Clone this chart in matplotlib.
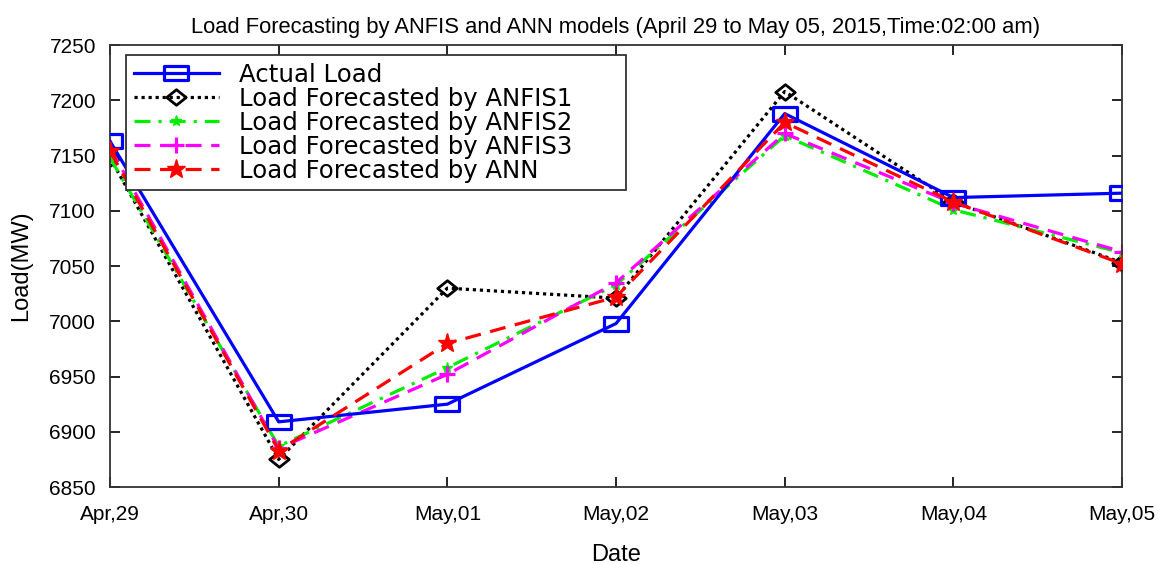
import matplotlib
matplotlib.use("Agg")
import matplotlib.pyplot as plt
from matplotlib.path import Path

plt.rcParams['font.family'] = ['Liberation Sans', 'DejaVu Sans']

dates = ["Apr,29", "Apr,30", "May,01", "May,02", "May,03", "May,04", "May,05"]
actual = [7163, 6909, 6925, 6998, 7188, 7112, 7116]
anfis1 = [7148, 6875, 7030, 7021, 7208, 7108, 7053]
anfis2 = [7148, 6887, 6958, 7033, 7168, 7101, 7062]
anfis3 = [7157, 6885, 6952, 7035, 7170, 7107, 7063]
ann = [7154, 6883, 6980, 7022, 7180, 7108, 7052]

x = list(range(len(dates)))

# wide markers, the source picture is stretched sideways
rect = Path([(-1, -0.6), (1, -0.6), (1, 0.6), (-1, 0.6), (-1, -0.6)],
            [Path.MOVETO, Path.LINETO, Path.LINETO, Path.LINETO, Path.CLOSEPOLY])
diam = Path([(0, -0.8), (1, 0), (0, 0.8), (-1, 0), (0, -0.8)],
            [Path.MOVETO, Path.LINETO, Path.LINETO, Path.LINETO, Path.CLOSEPOLY])

fig = plt.figure(figsize=(11.58, 5.64), dpi=100)
ax = fig.add_axes([0.095, 0.1365, 0.874, 0.7835])

ax.plot(x, actual, color="blue", lw=2.3, marker=rect, ms=17, mfc="none",
        mew=2.3, label="Actual Load", zorder=3)
ax.plot(x, anfis1, color="black", lw=2.3, ls=(0, (1, 1.2)), marker=diam, ms=14,
        mfc="none", mew=2, label="Load Forecasted by ANFIS1", zorder=2)
ax.plot(x, anfis2, color="#00ee00", lw=2.3, ls=(0, (5, 2.5, 1, 2.5)), marker="*",
        ms=8, mfc="#00ee00", label="Load Forecasted by ANFIS2", zorder=2)
ax.plot(x, anfis3, color="magenta", lw=2.3, ls=(0, (5, 3)), marker="+", ms=12,
        mew=2.3, label="Load Forecasted by ANFIS3", zorder=2)
ax.plot(x, ann, color="red", lw=2.3, ls=(0, (5, 3)), marker="*", ms=14,
        mfc="red", label="Load Forecasted by ANN", zorder=4)

ax.set_xlim(0, 6)
ax.set_ylim(6850, 7250)
ax.set_xticks(x)
ax.set_xticklabels(dates, fontsize=15)
ax.set_yticks(range(6850, 7251, 50))
ax.tick_params(axis="y", labelsize=15, pad=10)
ax.tick_params(axis="x", pad=13)
ax.tick_params(direction="in", top=True, right=True, length=7, width=1.2)
for sp in ax.spines.values():
    sp.set_linewidth(1.3)
    sp.set_color("#333333")

ax.set_xlabel("Date", fontsize=17, labelpad=14)
ax.set_ylabel("Load(MW)", fontsize=17, labelpad=12)
ax.set_title("Load Forecasting by ANFIS and ANN models (April 29 to May 05, 2015,Time:02:00 am)",
             fontsize=15.8, pad=9)

labels = ["Actual Load", "Load Forecasted by ANFIS1", "Load Forecasted by ANFIS2",
          "Load Forecasted by ANFIS3", "Load Forecasted by ANN"]
leg = ax.legend(ax.get_lines(), [l + "      " for l in labels],
                loc="upper left", bbox_to_anchor=(0.016, 0.977),
                prop={"family": "DejaVu Sans", "size": 17.6},
                handlelength=3.5, fancybox=False, framealpha=1, edgecolor="#333333",
                borderpad=0.3, labelspacing=0.0, handletextpad=0.8,
                borderaxespad=0)
leg.get_frame().set_linewidth(1.3)

fig.savefig("out.png", dpi=100)
